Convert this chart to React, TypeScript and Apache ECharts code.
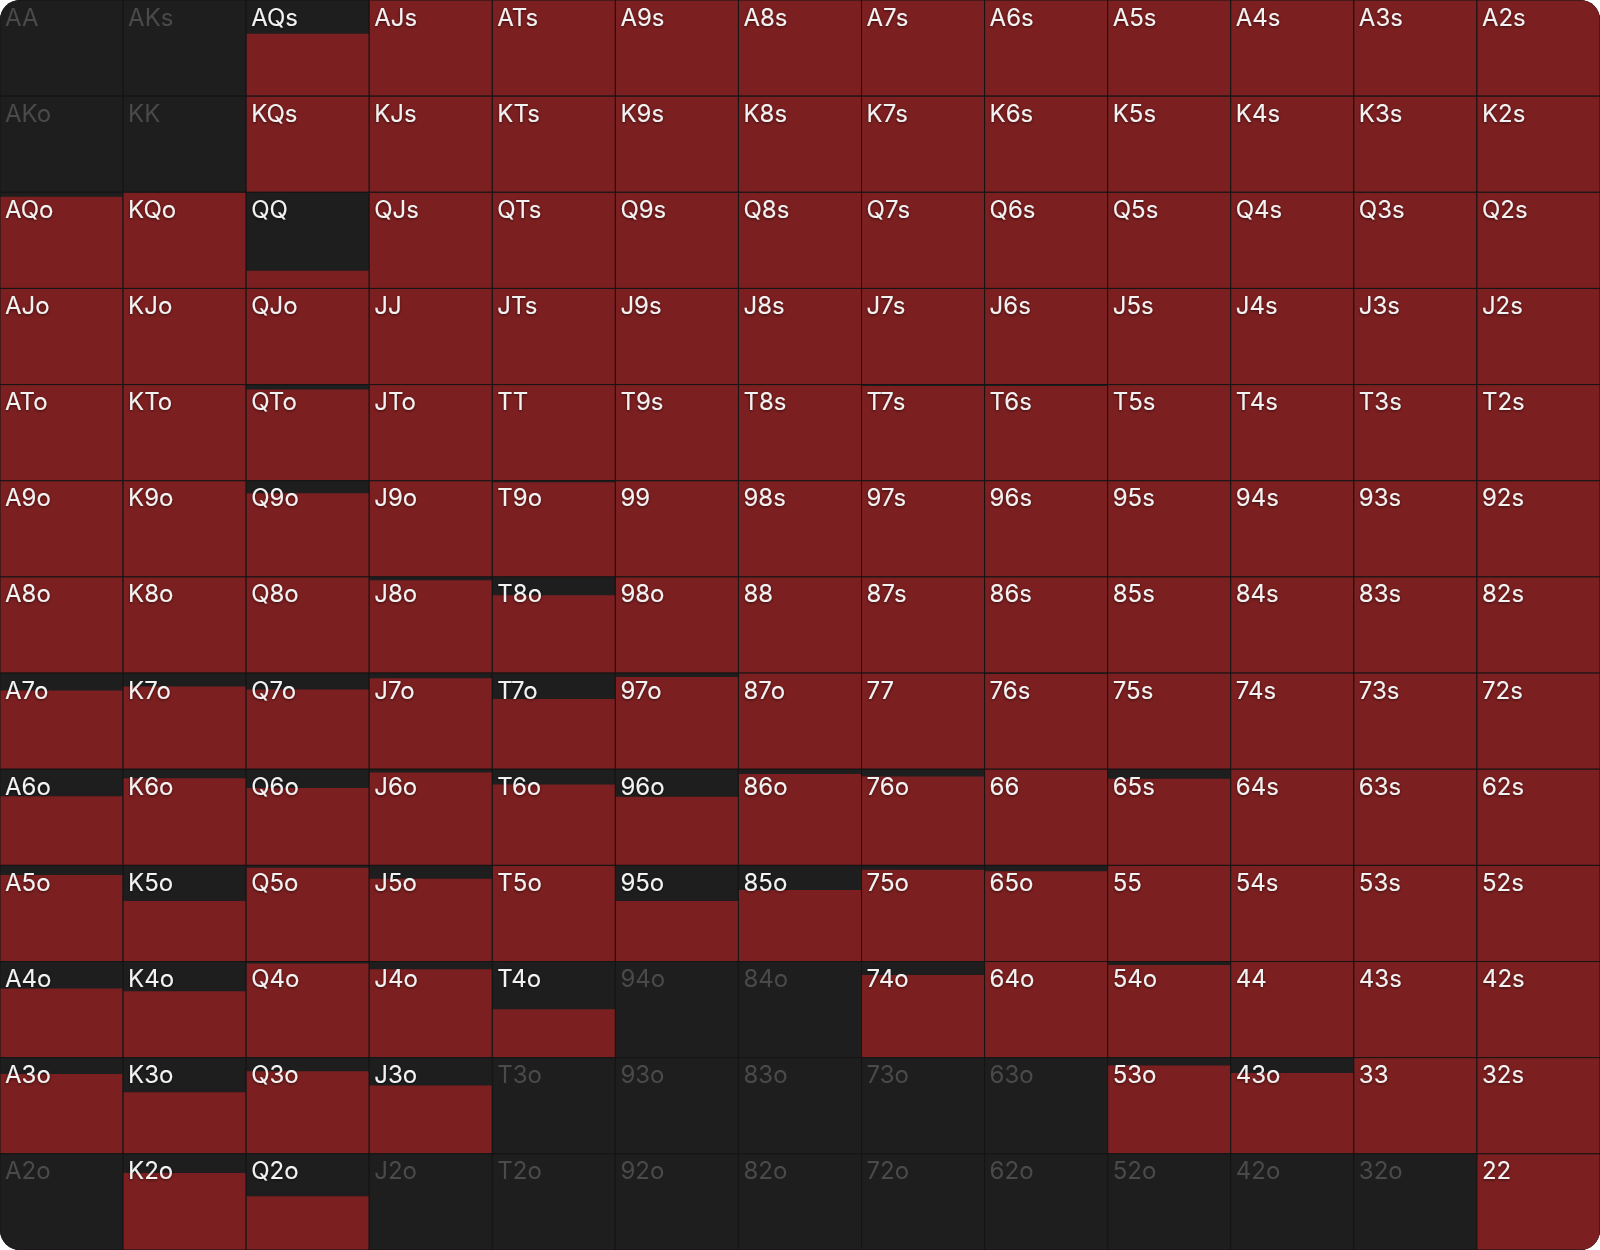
import React, { useEffect, useRef } from "react";
import * as echarts from "echarts";

const ranks = ["A", "K", "Q", "J", "T", "9", "8", "7", "6", "5", "4", "3", "2"];

// Frequency (0..1) of each hand, row by row (row = first rank)
const rowA = [0, 0, 0.65, 1, 1, 1, 1, 1, 1, 1, 1, 1, 1];
const rowK = [0, 0, 1, 1, 1, 1, 1, 1, 1, 1, 1, 1, 1];
const rowQ = [0.955, 1, 0.185, 1, 1, 1, 1, 1, 1, 1, 1, 1, 1];
const rowJ = [1, 1, 1, 1, 1, 1, 1, 1, 1, 1, 1, 1, 1];
const rowT = [1, 1, 0.95, 1, 1, 1, 1, 0.985, 0.985, 1, 1, 1, 1];
const row9 = [1, 1, 0.87, 1, 0.985, 1, 1, 1, 1, 1, 1, 1, 1];
const row8 = [1, 1, 1, 0.965, 0.81, 1, 1, 1, 1, 1, 1, 1, 1];
const row7 = [0.82, 0.86, 0.83, 0.945, 0.73, 0.96, 1, 1, 0.99, 1, 1, 1, 1];
const row6 = [0.72, 0.905, 0.805, 0.965, 0.84, 0.715, 0.95, 0.925, 1, 0.9, 1, 1, 1];
const row5 = [0.9, 0.63, 0.975, 0.86, 0.995, 0.63, 0.745, 0.955, 0.94, 1, 1, 1, 1];
const row4 = [0.72, 0.69, 0.98, 0.92, 0.505, 0, 0, 0.86, 1, 0.965, 1, 1, 1];
const row3 = [0.83, 0.64, 0.86, 0.71, 0, 0, 0, 0, 0, 0.92, 0.84, 1, 1];
const row2 = [0, 0.8, 0.56, 0, 0, 0, 0, 0, 0, 0, 0, 0, 1];

const rows = [rowA, rowK, rowQ, rowJ, rowT, row9, row8, row7, row6, row5, row4, row3, row2];

const RED = "#7c1f20";
const DARK = "#1e1e1e";
const LINE = "#151515";

function handLabel(r: number, c: number): string {
  if (r === c) return ranks[r] + ranks[c];
  if (c > r) return ranks[r] + ranks[c] + "s";
  return ranks[c] + ranks[r] + "o";
}

export default function App() {
  const ref = useRef<HTMLDivElement>(null);

  useEffect(() => {
    if (!ref.current) return;
    const chart = echarts.init(ref.current, undefined, { renderer: "svg" });

    const data: any[] = [];
    const labels: string[] = [];
    rows.forEach((row, r) => {
      row.forEach((f, c) => {
        data.push([c, r, f]);
        labels.push(handLabel(r, c));
      });
    });

    chart.setOption({
      animation: false,
      backgroundColor: DARK,
      grid: { left: 0, right: 0, top: 0, bottom: 0 },
      xAxis: {
        type: "category",
        data: ranks,
        show: false,
      },
      yAxis: {
        type: "category",
        data: ranks,
        inverse: true,
        show: false,
      },
      series: [
        {
          type: "custom",
          data,
          renderItem: (params: any, api: any) => {
            const col = api.value(0);
            const row = api.value(1);
            const f = api.value(2);
            const c = api.coord([col, row]);
            const s = api.size([1, 1]);
            const w = s[0];
            const h = s[1];
            const x0 = c[0] - w / 2;
            const y0 = c[1] - h / 2;
            const label = labels[params.dataIndex];
            const active = f > 0;
            return {
              type: "group",
              children: [
                {
                  type: "rect",
                  shape: { x: x0, y: y0, width: w, height: h },
                  style: { fill: DARK },
                },
                {
                  type: "rect",
                  shape: { x: x0, y: y0 + h * (1 - f), width: w, height: h * f },
                  style: { fill: RED },
                },
                {
                  type: "rect",
                  shape: { x: x0, y: y0, width: w, height: h },
                  style: { fill: "none", stroke: LINE, lineWidth: 1 },
                },
                {
                  type: "text",
                  x: x0 + 5,
                  y: y0 + 5,
                  style: {
                    text: label,
                    fill: active ? "#f2f2f2" : "#4a4a4a",
                    font: "400 24px Inter, 'Noto Sans', sans-serif",
                    textAlign: "left",
                    textVerticalAlign: "top",
                    textShadowColor: active ? "rgba(0,0,0,0.55)" : "transparent",
                    textShadowBlur: active ? 3 : 0,
                    textShadowOffsetY: active ? 1 : 0,
                  },
                },
              ],
            };
          },
        },
      ],
    });

    return () => chart.dispose();
  }, []);

  return (
    <div
      style={{
        position: "fixed",
        left: 0,
        top: 0,
        width: 1600,
        height: 1250,
        borderRadius: 20,
        overflow: "hidden",
      }}
    >
      <div ref={ref} style={{ width: 1600, height: 1250 }} />
    </div>
  );
}
